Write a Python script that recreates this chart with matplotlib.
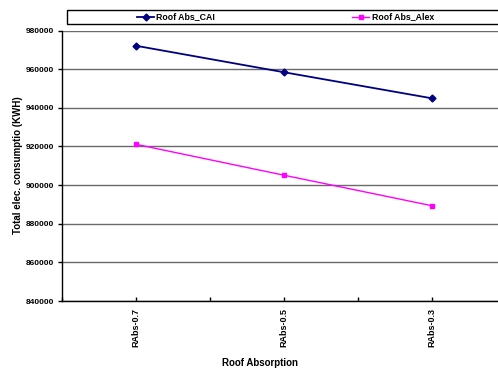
import matplotlib.pyplot as plt
from matplotlib.ticker import MultipleLocator
from matplotlib.lines import Line2D
from matplotlib.patches import Rectangle
from matplotlib.transforms import Affine2D

plt.rcParams['font.family'] = ['Liberation Sans', 'DejaVu Sans']
plt.rcParams['font.weight'] = 'bold'

categories = ["RAbs-0.7", "RAbs-0.5", "RAbs-0.3"]
cai = [972100, 958400, 944900]
alex = [921100, 905100, 889300]
series_names = ["Roof Abs_CAI", "Roof Abs_Alex"]

W, H = 498, 371
fig = plt.figure(figsize=(W / 100, H / 100), dpi=100)
# plot area runs past the right edge of the canvas
left, right, top, bottom = 62, 506, 30.5, 301
ax = fig.add_axes([left / W, 1 - bottom / H, (right - left) / W, (bottom - top) / H])

x = range(len(categories))
ax.plot(x, cai, color="#000080", marker="D", markersize=3.5, lw=1.3, clip_on=False)
ax.plot(x, alex, color="#FF00FF", marker="s", markersize=3.5, lw=1, clip_on=False)

ax.set_xlim(-0.5, 2.5)
ax.set_ylim(840000, 980000)
ax.yaxis.set_major_locator(MultipleLocator(20000))
ax.grid(axis="y", color="#6a6a6a", lw=1)
ax.set_axisbelow(True)
for s in ("top", "right"):
    ax.spines[s].set_visible(False)
ax.spines["left"].set_linewidth(1)
ax.spines["bottom"].set_linewidth(1)

ax.set_xticks(list(x))
ax.set_xticklabels(categories, rotation=90, fontsize=6.5, fontweight="bold")
ax.set_xticks([-0.5, 0.5, 1.5, 2.5], minor=True)
ax.tick_params(axis="x", which="both", direction="in", length=3, width=1, pad=5)
ax.tick_params(axis="y", direction="out", length=3, width=1, labelsize=6, pad=3)
for t in ax.get_yticklabels():
    t.set_fontweight("bold")

fig.text(18 / W, 1 - 165 / H, "Total elec. consumptio (KWH)", rotation=90,
         ha="center", va="center", fontsize=7, fontweight="bold")
fig.text(260 / W, 1 - 363 / H, "Roof Absorption", ha="center", va="center",
         fontsize=7, fontweight="bold")

# legend strip along the top, laid out in pixel coordinates (y down)
px = Affine2D().scale(1 / W, -1 / H).translate(0, 1) + fig.transFigure
fig.add_artist(Rectangle((67, 9.5), 440, 14.5, transform=px, fill=False,
                         edgecolor="black", lw=1))
styles = [("#000080", "D", 1.3, 137), ("#FF00FF", "s", 1, 352)]
for (color, mk, lw, x0), name in zip(styles, series_names):
    fig.add_artist(Line2D([x0, x0 + 17], [16.8, 16.8], transform=px, color=color, lw=lw))
    fig.add_artist(Line2D([x0 + 8.5], [16.8], transform=px, color=color, marker=mk,
                          markersize=3.5, lw=0))
    fig.text(x0 + 19.5, 16.8, name, transform=px, ha="left", va="center",
             fontsize=6.3, fontweight="bold")

fig.savefig("out.png", dpi=100)
